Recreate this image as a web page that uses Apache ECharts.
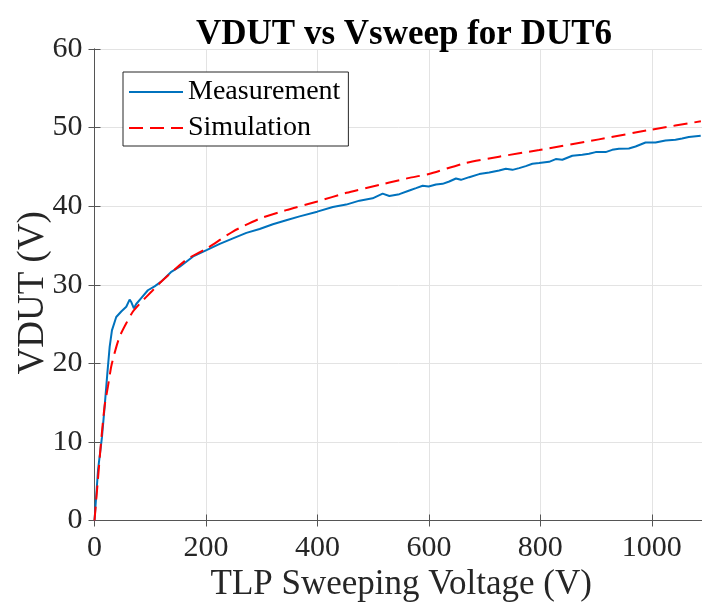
<!DOCTYPE html>
<html>
<head>
<meta charset="utf-8">
<script src="https://cdn.jsdelivr.net/npm/echarts@6/dist/echarts.min.js"></script>
<style>
  html, body { margin: 0; padding: 0; background: #fff; }
  #chart { width: 702px; height: 611px; }
</style>
</head>
<body>
<div id="chart"></div>
<script>
// Measured device voltage versus TLP sweep voltage
const measX = [0, 6.3, 13.4, 18.2, 23, 27.2, 31.3, 39, 48, 57, 63, 66, 70.7, 74.9, 83.8, 95.8, 107.8, 119.6, 137,
  153, 177, 201, 224.7, 248.5, 272.5, 296.3, 320, 344, 368, 399.6, 427.6, 451.6, 475.4, 499, 517, 529,
  547, 564.9, 576.9, 588.8, 599.5, 612.7, 624.6, 636.5, 648.5, 657.5, 672.3, 690.2, 708.2, 726, 738, 749.9,
  761.9, 773.8, 785.7, 797.7, 815.6, 827.6, 839.4, 857.3, 875.2, 887.2, 899.2, 917.1, 928.9, 940.9, 958.8,
  970.8, 988.7, 1006.6, 1024.5, 1042.4, 1054.3, 1066.3, 1087.7];
const measV = [0, 6.4, 10.6, 14.5, 18.7, 22.1, 24.2, 25.9, 26.6, 27.2, 28.1, 27.8, 27.0, 27.55, 28.3, 29.3, 29.8, 30.4, 31.6,
  32.3, 33.6, 34.4, 35.2, 35.9, 36.6, 37.1, 37.7, 38.2, 38.7, 39.3, 39.9, 40.2, 40.7, 41.0, 41.6, 41.3,
  41.53, 41.99, 42.29, 42.59, 42.5, 42.75, 42.84, 43.14, 43.52, 43.35, 43.69, 44.08, 44.28, 44.54, 44.75, 44.62,
  44.84, 45.1, 45.39, 45.48, 45.64, 45.99, 45.9, 46.41, 46.54, 46.66, 46.88, 46.88, 47.17, 47.3, 47.34,
  47.59, 48.1, 48.1, 48.36, 48.44, 48.61, 48.79, 48.96];

// Simulated device voltage
const simX = [0, 6, 12, 18, 24, 30, 36, 45, 57, 69, 84, 102, 120, 165, 201, 249, 296, 344, 400, 452, 511, 547, 565,
  600, 666, 726, 798, 905, 1000, 1088];
const simV = [0, 5.1, 10.2, 14.5, 17.0, 19.6, 21.3, 23.4, 25.1, 26.6, 27.8, 29.1, 30.4, 33.2, 34.6, 36.8, 38.4, 39.5,
  40.6, 41.7, 42.7, 43.3, 43.6, 44.1, 45.5, 46.3, 47.15, 48.5, 49.75, 50.8];

const xTicks = { min: 0, max: 1090, step: 200 };
const yTicks = { min: 0, max: 60, step: 10 };

const pairs = (xs, ys) => xs.map((x, i) => [x, ys[i]]);

const FONT = "'Liberation Serif', 'Times New Roman', serif";
const AXIS_COLOR = '#555555';
const GRID_COLOR = '#e3e3e3';
const TEXT_COLOR = '#262626';

const chart = echarts.init(document.getElementById('chart'));

// Box frame: top and right axes carry only the line and inward ticks
const frameX = {
  type: 'value', min: xTicks.min, max: xTicks.max, interval: xTicks.step,
  axisLine: { show: true, lineStyle: { color: AXIS_COLOR, width: 1 } },
  axisTick: { show: true, inside: true, length: 6, lineStyle: { color: AXIS_COLOR } },
  splitLine: { show: false },
  axisLabel: { show: false }
};
const frameY = {
  type: 'value', min: yTicks.min, max: yTicks.max, interval: yTicks.step,
  axisLine: { show: true, lineStyle: { color: AXIS_COLOR, width: 1 } },
  axisTick: { show: true, inside: true, length: 6, lineStyle: { color: AXIS_COLOR } },
  splitLine: { show: false },
  axisLabel: { show: false }
};

chart.setOption({
  animation: false,
  backgroundColor: '#ffffff',
  title: {
    text: 'VDUT vs Vsweep for DUT6',
    left: 399,
    textAlign: 'center',
    top: 12,
    textStyle: { fontFamily: FONT, fontWeight: 'bold', fontSize: 35, color: '#000000' }
  },
  grid: { left: 94.5, right: 0, top: 49, bottom: 90.5, containLabel: false, outerBoundsMode: 'none' },
  legend: {
    orient: 'vertical',
    left: 123,
    top: 72,
    padding: [5, 8, 3, 5],
    itemGap: 6,
    itemWidth: 54,
    itemHeight: 30,
    itemStyle: { opacity: 0 },
    borderColor: '#262626',
    borderWidth: 1,
    borderRadius: 0,
    backgroundColor: '#ffffff',
    textStyle: { fontFamily: FONT, fontSize: 28, color: '#000000', lineHeight: 30 },
    data: ['Measurement', 'Simulation']
  },
  xAxis: [
    {
      type: 'value', min: xTicks.min, max: xTicks.max, interval: xTicks.step,
      name: 'TLP Sweeping Voltage (V)',
      nameLocation: 'middle',
      nameGap: 47,
      nameMoveOverlap: false,
      nameTextStyle: { fontFamily: FONT, fontSize: 35, color: TEXT_COLOR, padding: [0, 0, 0, 6] },
      axisLine: { show: true, lineStyle: { color: AXIS_COLOR, width: 1 } },
      axisTick: { show: true, inside: true, length: 6, lineStyle: { color: AXIS_COLOR } },
      axisLabel: {
        fontFamily: FONT, fontSize: 30, color: TEXT_COLOR, margin: 13, showMaxLabel: false,
        formatter: v => String(v)
      },
      splitLine: { show: true, lineStyle: { color: GRID_COLOR, width: 1 } }
    },
    Object.assign({ position: 'top' }, frameX)
  ],
  yAxis: [
    {
      type: 'value', min: yTicks.min, max: yTicks.max, interval: yTicks.step,
      name: 'VDUT (V)',
      nameLocation: 'middle',
      nameGap: 43,
      nameMoveOverlap: false,
      nameTextStyle: { fontFamily: FONT, fontSize: 37, color: TEXT_COLOR, padding: [0, 16, 0, 0] },
      axisLine: { show: true, lineStyle: { color: AXIS_COLOR, width: 1 } },
      axisTick: { show: true, inside: true, length: 6, lineStyle: { color: AXIS_COLOR } },
      axisLabel: { fontFamily: FONT, fontSize: 30, color: TEXT_COLOR, margin: 12, formatter: v => String(v) },
      splitLine: { show: true, lineStyle: { color: GRID_COLOR, width: 1 } }
    },
    Object.assign({ position: 'right' }, frameY)
  ],
  series: [
    {
      name: 'Measurement',
      type: 'line',
      data: pairs(measX, measV),
      symbol: 'none',
      lineStyle: { color: '#0072BD', width: 2 },
      itemStyle: { color: '#0072BD' },
      z: 3
    },
    {
      name: 'Simulation',
      type: 'line',
      data: pairs(simX, simV),
      symbol: 'none',
      smooth: 0.2,
      lineStyle: { color: '#FF0000', width: 2, type: [14, 7] },
      itemStyle: { color: '#FF0000' },
      z: 4
    }
  ]
});
</script>
</body>
</html>
